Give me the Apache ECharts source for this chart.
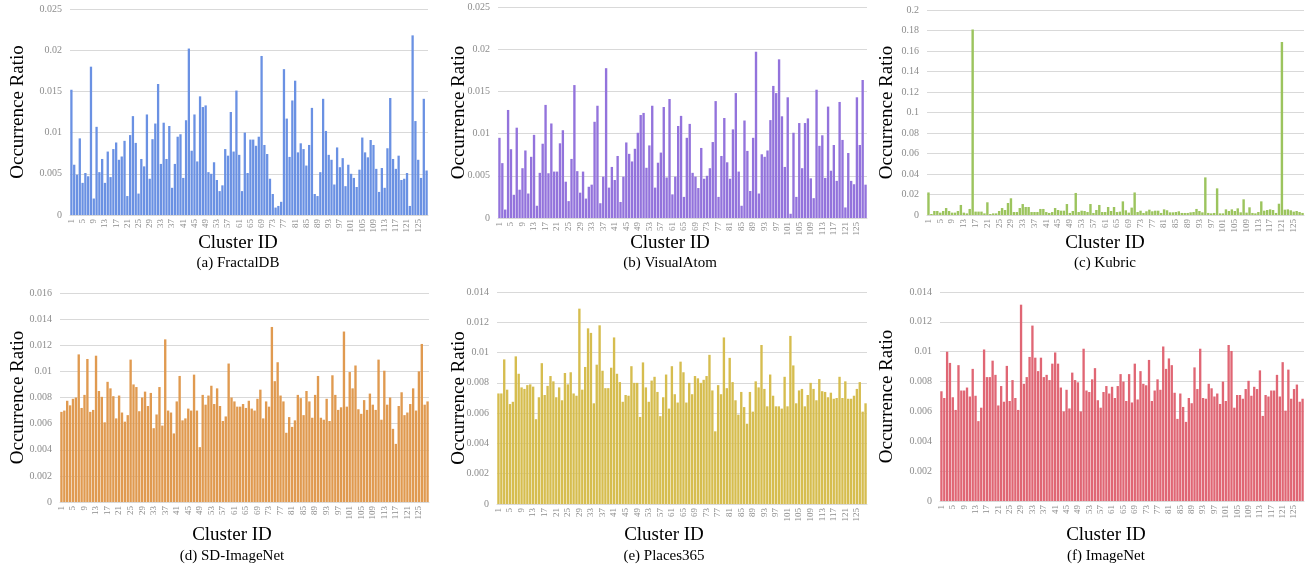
<!DOCTYPE html>
<html><head><meta charset="utf-8">
<script src="https://cdn.jsdelivr.net/npm/echarts@6/dist/echarts.min.js"></script>
<style>html,body{margin:0;padding:0;background:#fff}#c{width:1307px;height:569px}</style>
</head><body><div id="c"></div>
<script>
const clusterIds = Array.from({length:128},(_,i)=>String(i+1));

const fractaldb = [0.0152,0.0061,0.0049,0.0093,0.0039,0.0051,0.0047,0.0180,0.0020,0.0107,
0.0052,0.0068,0.0039,0.0077,0.0046,0.0080,0.0088,0.0067,0.0071,0.0090,
0.0023,0.0097,0.0120,0.00875,0.0026,0.0068,0.0059,0.0122,0.0044,0.0092,
0.0111,0.0159,0.0062,0.0112,0.0068,0.0108,0.0033,0.0062,0.0095,0.0098,
0.0045,0.0115,0.0202,0.0078,0.0122,0.0065,0.0144,0.0131,0.0133,0.0052,
0.0050,0.0064,0.00425,0.0029,0.0036,0.0080,0.0072,0.0125,0.0077,0.0151,
0.0073,0.0029,0.0100,0.0051,0.00915,0.00915,0.0084,0.0095,0.0193,0.0085,
0.0074,0.0044,0.00255,0.0009,0.0011,0.0016,0.0177,0.0117,0.00705,0.0139,
0.0163,0.0076,0.0087,0.0080,0.0060,0.0085,0.0130,0.00255,0.0023,0.0052,
0.0141,0.0102,0.0073,0.0067,0.0037,0.0082,0.0058,0.0069,0.0035,0.0061,
0.0050,0.0045,0.0034,0.0055,0.0094,0.0076,0.0070,0.0091,0.0085,0.0056,
0.0028,0.0057,0.0033,0.0081,0.0142,0.0068,0.0056,0.0072,0.00425,0.0044,
0.0051,0.0011,0.0218,0.0114,0.0067,0.0045,0.0141,0.0054];

const visualatom = [0.0095,0.0065,0.0010,0.0128,0.00815,0.00275,0.0107,0.00335,0.0059,0.0080,
0.0029,0.00725,0.00985,0.00145,0.00535,0.0088,0.0134,0.0053,0.0112,0.0055,
0.0055,0.00885,0.0104,0.0043,0.0020,0.0070,0.01575,0.00555,0.0030,0.0055,
0.0023,0.0037,0.00395,0.0114,0.0133,0.00175,0.0049,0.01775,0.0036,0.00605,
0.0045,0.00735,0.0019,0.0049,0.00895,0.0076,0.0067,0.0082,0.0101,0.0122,
0.01245,0.00595,0.0086,0.0133,0.0036,0.00655,0.00775,0.01315,0.0048,0.0141,
0.0028,0.0049,0.0109,0.0121,0.0025,0.0095,0.01115,0.00535,0.0049,0.00355,
0.0083,0.00465,0.0050,0.0059,0.0090,0.01385,0.0025,0.00735,0.01185,0.0066,
0.00465,0.0105,0.0148,0.0055,0.00145,0.01155,0.00795,0.0032,0.0095,0.0197,
0.0029,0.00755,0.00725,0.0080,0.0116,0.01565,0.0148,0.0188,0.01205,0.00605,
0.0143,0.0005,0.0101,0.0025,0.01125,0.0059,0.01125,0.0118,0.0047,0.00235,
0.0152,0.00855,0.0098,0.00475,0.0132,0.0056,0.00865,0.0044,0.01375,0.00925,
0.00125,0.0077,0.0044,0.0040,0.0143,0.00865,0.01635,0.00395];

const kubric = [0.022,0.001,0.0039,0.0039,0.0023,0.0039,0.0068,0.0039,0.0023,0.0023,
0.0039,0.0098,0.0023,0.0016,0.0059,0.181,0.0033,0.0033,0.0033,0.0016,
0.0124,0.001,0.0016,0.0016,0.0039,0.0068,0.0049,0.0117,0.0163,0.0029,
0.0029,0.0068,0.0107,0.0078,0.0078,0.0029,0.0029,0.0029,0.0059,0.0059,
0.0029,0.002,0.0029,0.0068,0.0049,0.0042,0.0042,0.0107,0.002,0.0039,
0.0215,0.0029,0.0042,0.0039,0.0029,0.0107,0.002,0.0049,0.0098,0.0029,
0.0029,0.0078,0.0039,0.0078,0.0029,0.0033,0.0133,0.0046,0.0023,0.0072,
0.022,0.0029,0.0042,0.002,0.0036,0.0052,0.0036,0.0042,0.0042,0.002,
0.0055,0.0046,0.0026,0.0026,0.0029,0.0036,0.002,0.002,0.002,0.0026,
0.0029,0.0059,0.0039,0.0026,0.0367,0.002,0.0016,0.002,0.026,0.0016,
0.0016,0.0055,0.0039,0.0055,0.0039,0.0065,0.0026,0.0153,0.0023,0.0075,
0.002,0.0016,0.0029,0.0133,0.0042,0.0049,0.0055,0.0049,0.002,0.011,
0.1688,0.0052,0.0055,0.0046,0.0033,0.0039,0.0029,0.002];

const sdImagenet = [0.0069,0.0070,0.00775,0.0074,0.0079,0.0080,0.0113,0.0072,0.0082,0.01095,
0.0069,0.00705,0.0112,0.0085,0.00805,0.0061,0.0092,0.0087,0.0081,0.0064,
0.00815,0.00685,0.00615,0.00665,0.0109,0.0090,0.0088,0.00695,0.0080,0.00845,
0.00735,0.00835,0.00565,0.0067,0.0088,0.00585,0.01245,0.0070,0.00685,0.00525,
0.0077,0.00965,0.00625,0.0064,0.00715,0.0070,0.00975,0.0070,0.0042,0.0082,
0.00745,0.00815,0.0089,0.0075,0.0087,0.00735,0.0062,0.00655,0.0106,0.0080,
0.0077,0.0073,0.0073,0.0075,0.0072,0.00775,0.00715,0.0070,0.0079,0.0086,
0.0064,0.0077,0.0073,0.0134,0.00925,0.0107,0.00815,0.0077,0.0053,0.0065,
0.00575,0.00625,0.0082,0.00795,0.00665,0.0085,0.0077,0.00645,0.0082,0.00965,
0.00645,0.0063,0.0079,0.0062,0.0097,0.0082,0.00705,0.00725,0.01305,0.0073,
0.00995,0.0087,0.01045,0.0071,0.00675,0.0078,0.00705,0.0083,0.00745,0.00705,
0.0109,0.0063,0.01005,0.00745,0.0080,0.0056,0.00445,0.00735,0.0084,0.00665,
0.00685,0.0075,0.0087,0.0070,0.0100,0.0121,0.00745,0.0077];

const places365 = [0.0073,0.0073,0.00955,0.00755,0.0066,0.00675,0.00975,0.0086,0.0077,0.0076,
0.00785,0.0079,0.00775,0.0056,0.00705,0.0093,0.0072,0.0078,0.00845,0.0081,
0.00705,0.0077,0.00685,0.00865,0.0079,0.0087,0.0073,0.00715,0.0129,0.00755,
0.00905,0.0116,0.0113,0.00665,0.0092,0.0118,0.0088,0.00765,0.00765,0.0090,
0.0110,0.0086,0.00805,0.00675,0.0072,0.00715,0.0091,0.0080,0.0080,0.00575,
0.00935,0.0077,0.00675,0.00815,0.0084,0.0074,0.0058,0.00705,0.00855,0.0063,
0.0091,0.00725,0.0067,0.0094,0.0087,0.0067,0.0080,0.00725,0.00845,0.0083,
0.0080,0.0082,0.00845,0.00985,0.0075,0.0048,0.00785,0.00725,0.0110,0.00765,
0.00965,0.00805,0.00685,0.0059,0.0074,0.0064,0.0053,0.0074,0.0061,0.0081,
0.0077,0.0105,0.0076,0.00645,0.00855,0.00715,0.00645,0.00645,0.0063,0.0084,
0.00645,0.0111,0.00915,0.00665,0.0075,0.0076,0.00645,0.0072,0.0080,0.0076,
0.00685,0.00825,0.00745,0.0074,0.00705,0.00735,0.00695,0.0070,0.0084,0.0070,
0.0081,0.00695,0.00695,0.00715,0.0076,0.00805,0.0061,0.00665];

const imagenet = [0.00735,0.0069,0.0100,0.00925,0.00695,0.0061,0.0091,0.0074,0.0074,0.0076,
0.0070,0.00885,0.00705,0.00535,0.00625,0.01015,0.0083,0.0083,0.0094,0.00845,
0.0064,0.0077,0.00665,0.00905,0.0067,0.0081,0.0069,0.0061,0.01315,0.00785,
0.0083,0.00965,0.01175,0.0096,0.0087,0.0096,0.0083,0.00845,0.0081,0.0092,
0.00995,0.0092,0.0076,0.0060,0.00745,0.0062,0.0086,0.0081,0.00795,0.0060,
0.0102,0.0074,0.0073,0.00815,0.0089,0.00675,0.00625,0.0073,0.0077,0.0072,
0.00765,0.0069,0.0077,0.0085,0.0080,0.0067,0.0085,0.0066,0.0092,0.0068,
0.0087,0.00785,0.00775,0.00945,0.0067,0.0074,0.00815,0.00745,0.01035,0.00885,
0.00955,0.0091,0.00725,0.0055,0.0072,0.0063,0.0053,0.0069,0.00655,0.00895,
0.0075,0.0102,0.0069,0.00685,0.00785,0.00755,0.0070,0.0072,0.0065,0.0080,
0.0067,0.01045,0.01005,0.00625,0.0071,0.0071,0.00685,0.0075,0.00805,0.00705,
0.00765,0.0075,0.00875,0.0057,0.0071,0.0070,0.0074,0.0074,0.00845,0.0070,
0.0093,0.00605,0.0088,0.00685,0.0075,0.0078,0.00665,0.00685];

const panels = [
  {label:'(a) FractalDB', data:fractaldb, color:'#6a91e3', max:0.025, interval:0.005,
   grid:{left:70, top:9, width:358, height:206}, cx:238, ty:243, sy:263, nx:18},
  {label:'(b) VisualAtom', data:visualatom, color:'#9373dc', max:0.025, interval:0.005,
   grid:{left:498, top:7, width:369, height:211}, cx:670, ty:243, sy:263, nx:459},
  {label:'(c) Kubric', data:kubric, color:'#9cc45e', max:0.2, interval:0.02,
   grid:{left:927, top:10, width:377, height:205}, cx:1105, ty:243, sy:263, nx:887},
  {label:'(d) SD-ImageNet', data:sdImagenet, color:'#e09a50', max:0.016, interval:0.002,
   grid:{left:60, top:293, width:369, height:209}, cx:232, ty:535, sy:556, nx:18},
  {label:'(e) Places365', data:places365, color:'#d6bd4f', max:0.014, interval:0.002,
   grid:{left:497, top:292, width:370, height:212}, cx:664, ty:535, sy:556, nx:459},
  {label:'(f) ImageNet', data:imagenet, color:'#e06674', max:0.014, interval:0.002,
   grid:{left:940, top:292, width:364, height:209}, cx:1106, ty:535, sy:556, nx:887}
];

const SERIF = '"Liberation Serif", "DejaVu Serif", serif';
const GRAY = '#8c8c8c';
const GRID = '#d9d9d9';

const chart = echarts.init(document.getElementById('c'), null, {renderer:'canvas'});
const graphics = [];
panels.forEach(p => {
  graphics.push({type:'text', x:p.cx, y:p.ty, silent:true,
    style:{text:'Cluster ID', font:'19px ' + SERIF, fill:'#000', align:'center', verticalAlign:'middle', textAlign:'center', textVerticalAlign:'middle'}});
  graphics.push({type:'text', x:p.cx, y:p.sy, silent:true,
    style:{text:p.label, font:'15px ' + SERIF, fill:'#000', align:'center', verticalAlign:'middle', textAlign:'center', textVerticalAlign:'middle'}});
  graphics.push({type:'text', x:p.nx, y:p.grid.top + p.grid.height/2, rotation:Math.PI/2, silent:true,
    style:{text:'Occurrence Ratio', font:'19px ' + SERIF, fill:'#000', align:'center', verticalAlign:'middle', textAlign:'center', textVerticalAlign:'middle'}});
});

const option = {
  animation:false,
  backgroundColor:'#fff',
  grid: panels.map(p => Object.assign({containLabel:false}, p.grid)),
  xAxis: panels.map((p,i) => ({
    type:'category', gridIndex:i, data:clusterIds,
    axisTick:{show:false},
    axisLine:{lineStyle:{color:GRID, width:1}},
    axisLabel:{interval:3, rotate:90, fontSize:9, color:GRAY, fontFamily:SERIF, margin:4, hideOverlap:false}
  })),
  yAxis: panels.map((p,i) => ({
    type:'value', gridIndex:i, min:0, max:p.max, interval:p.interval,
    axisLine:{show:false}, axisTick:{show:false},
    splitLine:{lineStyle:{color:GRID, width:1}},
    axisLabel:{fontSize:10, color:GRAY, fontFamily:SERIF, margin:8,
      formatter: v => String(+v.toFixed(4))}
  })),
  series: panels.map((p,i) => ({
    type:'bar', xAxisIndex:i, yAxisIndex:i, data:p.data,
    barCategoryGap:'18%',
    itemStyle:{color:p.color},
    emphasis:{disabled:true}
  })),
  graphic: graphics
};
chart.setOption(option);
</script>
</body></html>
